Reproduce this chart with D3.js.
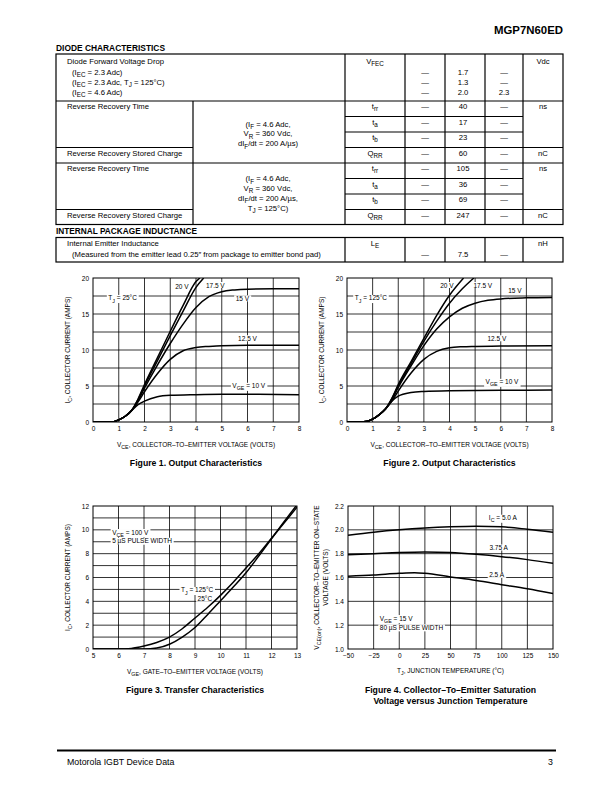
<!DOCTYPE html>
<html>
<head>
<meta charset="utf-8">
<script src="https://cdn.jsdelivr.net/npm/d3@7"></script>
<style>
  body { margin: 0; background: #fff; }
  svg { display: block; font-family: "Liberation Sans", Arial, Helvetica, sans-serif; }
</style>
</head>
<body>
<svg id="page" width="612" height="792"></svg>
<script>
const FONT = '"Liberation Sans", Arial, Helvetica, sans-serif';

// ---- table values
const forwardConds = ["(I_{EC} = 2.3 Adc)", "(I_{EC} = 2.3 Adc, T_{J} = 125°C)", "(I_{EC} = 4.6 Adc)"];
const forwardMin = ["—", "—", "—"];
const forwardTyp = ["1.7", "1.3", "2.0"];
const forwardMax = ["—", "—", "2.3"];
const recSymbols = ["t_{rr}", "t_{a}", "t_{b}", "Q_{RR}"];
const recUnits = ["ns", "", "", "nC"];
const rec25Cond = ["(I_{F} = 4.6 Adc,", "V_{R} = 360 Vdc,", "dI_{F}/dt = 200 A/µs)"];
const rec25Typ = ["40", "17", "23", "60"];
const rec125Cond = ["(I_{F} = 4.6 Adc,", "V_{R} = 360 Vdc,", "dI_{F}/dt = 200 A/µs,", "T_{J} = 125°C)"];
const rec125Typ = ["105", "36", "69", "247"];
const inductTyp = "7.5";

// ---- Figure 1: output characteristics, TJ = 25°C  [VCE (V), IC (A)]
const fig1Vge10 = [[0,0],[0.5,0],[0.8,0.05],[1,0.3],[1.25,0.8],[1.5,1.6],[1.75,2.4],[2,2.9],[2.5,3.5],[3,3.7],[4,3.8],[5,3.85],[6,3.85],[8,3.8]];
const fig1Vge125 = [[0,0],[0.5,0],[0.8,0.05],[1,0.3],[1.25,0.8],[1.5,1.6],[1.75,2.8],[2,4.2],[2.5,6.7],[3,8.7],[3.5,9.9],[4,10.35],[4.5,10.5],[5,10.6],[6,10.65],[8,10.65]];
const fig1Vge15 = [[0,0],[0.5,0],[0.8,0.05],[1,0.3],[1.25,0.8],[1.5,1.6],[1.75,3.0],[2,4.7],[2.5,7.9],[3,10.9],[3.5,13.6],[4,15.9],[4.5,17.4],[5,18.1],[5.5,18.35],[6,18.45],[7,18.5],[8,18.5]];
const fig1Vge175 = [[0,0],[0.5,0],[0.8,0.05],[1,0.3],[1.25,0.8],[1.5,1.6],[1.75,3.1],[2,5.0],[2.5,8.5],[3,12.0],[3.5,15.4],[4,18.7],[4.3,20]];
const fig1Vge20 = [[0,0],[0.5,0],[0.8,0.05],[1,0.3],[1.25,0.8],[1.5,1.6],[1.75,3.2],[2,5.2],[2.5,8.9],[3,12.6],[3.5,16.2],[4,19.5],[4.15,20]];

// ---- Figure 2: output characteristics, TJ = 125°C
const fig2Vge10 = [[0,0],[0.5,0],[0.8,0.1],[1,0.4],[1.25,1.0],[1.5,1.8],[1.75,2.9],[2,3.6],[2.5,4.1],[3,4.25],[4,4.35],[6,4.4],[8,4.45]];
const fig2Vge125 = [[0,0],[0.5,0],[0.8,0.1],[1,0.4],[1.25,1.0],[1.5,1.8],[1.75,2.9],[2,4.3],[2.5,6.8],[3,8.7],[3.5,9.8],[4,10.3],[4.5,10.45],[5,10.5],[6,10.55],[8,10.6]];
const fig2Vge15 = [[0,0],[0.5,0],[0.8,0.1],[1,0.4],[1.25,1.0],[1.5,1.8],[1.75,3.1],[2,4.8],[2.5,7.8],[3,10.6],[3.5,12.9],[4,14.6],[4.5,15.8],[5,16.5],[5.5,16.9],[6,17.1],[7,17.25],[8,17.3]];
const fig2Vge175 = [[0,0],[0.5,0],[0.8,0.1],[1,0.4],[1.25,1.0],[1.5,1.8],[1.75,3.2],[2,5.0],[2.5,8.1],[3,11.2],[3.5,14.0],[4,16.5],[4.5,18.5],[4.95,20]];
const fig2Vge20 = [[0,0],[0.5,0],[0.8,0.1],[1,0.4],[1.25,1.0],[1.5,1.8],[1.75,3.3],[2,5.2],[2.5,8.4],[3,11.6],[3.5,14.8],[4,17.6],[4.55,20]];

// ---- Figure 3: transfer characteristics [VGE (V), IC (A)]
const fig3Tj125 = [[5,0],[6,0],[6.5,0.05],[7,0.25],[7.5,0.55],[8,1.0],[8.5,1.7],[9,2.6],[9.5,3.5],[10,4.5],[10.5,5.6],[11,6.8],[11.5,8.0],[12,9.3],[12.5,10.6],[13,11.9]];
const fig3Tj25 = [[5,0],[7,0],[7.5,0.08],[8,0.4],[8.5,1.0],[9,1.8],[9.5,2.9],[10,4.05],[10.5,5.2],[11,6.4],[11.5,7.8],[12,9.25],[12.5,10.7],[13,12.1]];

// ---- Figure 4: VCE(on) vs junction temperature [TJ (°C), V]
const fig4Ic50 = [[-50,1.955],[-25,1.98],[0,2.0],[25,2.015],[50,2.025],[75,2.03],[100,2.025],[125,2.005],[150,1.98]];
const fig4Ic375 = [[-50,1.79],[-25,1.8],[0,1.81],[25,1.815],[50,1.81],[75,1.795],[100,1.775],[125,1.75],[150,1.72]];
const fig4Ic25 = [[-50,1.61],[-25,1.62],[0,1.635],[15,1.64],[25,1.635],[50,1.605],[75,1.575],[100,1.54],[125,1.505],[150,1.465]];

const svg = d3.select("#page");
svg.append("rect").attr("width", 612).attr("height", 792).attr("fill", "#fff");

// text with _{subscript} parts
function rich(t, str, fs) {
  const off = fs * 0.32;
  let down = false;
  str.split(/(_\{[^}]*\})/).forEach(p => {
    if (!p) return;
    if (p.startsWith("_{")) {
      t.append("tspan").attr("dy", down ? 0 : off).attr("font-size", fs * 0.82).text(p.slice(2, -1));
      down = true;
    } else {
      t.append("tspan").attr("dy", down ? -off : 0).text(p);
      down = false;
    }
  });
  return t;
}

function txt(g, x, y, str, o = {}) {
  const fs = o.size || 7.7;
  const t = g.append("text").attr("x", x).attr("y", y)
    .attr("font-size", fs).attr("text-anchor", o.anchor || "start");
  if (o.weight) t.attr("font-weight", o.weight);
  if (o.rotate) t.attr("transform", `rotate(-90,${x},${y})`);
  rich(t, str, fs);
  if (o.bg) {
    const b = t.node().getBBox();
    g.insert("rect", () => t.node())
      .attr("x", b.x - 1.5).attr("y", b.y + 0.5).attr("width", b.width + 3).attr("height", b.height - 1)
      .attr("fill", "#fff");
  }
  return t;
}

// ---- page header
svg.append("text").attr("x", 494).attr("y", 34).attr("font-size", 10.5).attr("font-weight", 900)
  .attr("textLength", 69).attr("lengthAdjust", "spacingAndGlyphs").text("MGP7N60ED");
svg.append("text").attr("x", 56).attr("y", 50.5).attr("font-size", 8.6).attr("font-weight", "bold")
  .attr("textLength", 109).attr("lengthAdjust", "spacingAndGlyphs").text("DIODE CHARACTERISTICS");
svg.append("text").attr("x", 56).attr("y", 233.5).attr("font-size", 8.6).attr("font-weight", "bold")
  .attr("textLength", 141).attr("lengthAdjust", "spacingAndGlyphs").text("INTERNAL PACKAGE INDUCTANCE");

// ---- tables
const colX = [56, 193, 345, 405, 445, 485, 523, 563];
const cSym = (colX[2] + colX[3]) / 2, cMin = (colX[3] + colX[4]) / 2, cTyp = 463,
      cMax = (colX[5] + colX[6]) / 2, cUnit = (colX[6] + colX[7]) / 2;
const tg = svg.append("g");
const lines = tg.append("g").attr("stroke", "#000").attr("stroke-width", 1.2);
const hline = (y, x1, x2) => lines.append("line").attr("x1", x1).attr("x2", x2).attr("y1", y).attr("y2", y);
const vline = (x, y1, y2) => lines.append("line").attr("x1", x).attr("x2", x).attr("y1", y1).attr("y2", y2);

const tTop = 54, tRow1 = 101, tBot = 224.5;
lines.append("rect").attr("x", colX[0]).attr("y", tTop).attr("width", colX[7] - colX[0])
  .attr("height", tBot - tTop).attr("fill", "none");
colX.slice(2, 7).forEach(x => vline(x, tTop, tBot));
vline(colX[1], tRow1, tBot);

txt(tg, 67, 63.5, "Diode Forward Voltage Drop");
txt(tg, cSym, 63.5, "V_{FEC}", { anchor: "middle" });
txt(tg, cUnit, 63.5, "Vdc", { anchor: "middle" });
forwardConds.forEach((s, i) => {
  const y = 74.5 + i * 10;
  txt(tg, 72, y, s);
  txt(tg, cMin, y, forwardMin[i], { anchor: "middle" });
  txt(tg, cTyp, y, forwardTyp[i], { anchor: "middle" });
  txt(tg, cMax, y, forwardMax[i], { anchor: "middle" });
});

const rowH = 15.5;
[[tRow1, rec25Cond, rec25Typ, 124], [tRow1 + 4 * rowH, rec125Cond, rec125Typ, 178.5]].forEach(([top, cond, typ, condY]) => {
  hline(top, colX[0], colX[7]);
  hline(top + 3 * rowH, colX[0], colX[1]);
  hline(top + 3 * rowH, colX[2], colX[7]);
  hline(top + rowH, colX[2], colX[6]);
  hline(top + 2 * rowH, colX[2], colX[6]);
  txt(tg, 67, top + 8, "Reverse Recovery Time");
  txt(tg, 67, top + 3 * rowH + 8, "Reverse Recovery Stored Charge");
  cond.forEach((s, i) => txt(tg, 268, condY + 2.6 + i * 9.8, s, { anchor: "middle" }));
  recSymbols.forEach((s, i) => {
    const y = top + i * rowH + 8;
    txt(tg, cSym, y, s, { anchor: "middle" });
    txt(tg, cMin, y, "—", { anchor: "middle" });
    txt(tg, cTyp, y, typ[i], { anchor: "middle" });
    txt(tg, cMax, y, "—", { anchor: "middle" });
    if (recUnits[i]) txt(tg, cUnit, y, recUnits[i], { anchor: "middle" });
  });
});

const t2Top = 237.5, t2Bot = 262;
lines.append("rect").attr("x", colX[0]).attr("y", t2Top).attr("width", colX[7] - colX[0])
  .attr("height", t2Bot - t2Top).attr("fill", "none");
colX.slice(2, 7).forEach(x => vline(x, t2Top, t2Bot));
txt(tg, 67, 245.5, "Internal Emitter Inductance");
txt(tg, 72, 256.5, "(Measured from the emitter lead 0.25″ from package to emitter bond pad)");
txt(tg, cSym, 245.5, "L_{E}", { anchor: "middle" });
txt(tg, cUnit, 245.5, "nH", { anchor: "middle" });
txt(tg, cMin, 256.5, "—", { anchor: "middle" });
txt(tg, cTyp, 256.5, inductTyp, { anchor: "middle" });
txt(tg, cMax, 256.5, "—", { anchor: "middle" });

// ---- charts
function chart(c) {
  const g = svg.append("g");
  const x = d3.scaleLinear().domain(c.xDomain).range([c.left, c.right]);
  const y = d3.scaleLinear().domain(c.yDomain).range([c.bottom, c.top]);

  g.append("g").selectAll("line").data(c.xGrid).join("line")
    .attr("x1", d => x(d)).attr("x2", d => x(d)).attr("y1", c.top).attr("y2", c.bottom);
  g.append("g").selectAll("line").data(c.yGrid).join("line")
    .attr("x1", c.left).attr("x2", c.right).attr("y1", d => y(d)).attr("y2", d => y(d));
  g.selectAll("line").attr("stroke", "#000").attr("stroke-width", 0.8);

  // labels sit on white boxes that break the grid; curves are drawn over them
  const lg = g.append("g");
  c.labels.forEach(l => txt(lg, x(l.x), y(l.y) + 2.3, l.text, { size: 6.5, anchor: l.anchor || "middle", bg: true }));

  g.append("rect").attr("x", c.left).attr("y", c.top).attr("width", c.right - c.left)
    .attr("height", c.bottom - c.top).attr("fill", "none").attr("stroke", "#000").attr("stroke-width", 1);

  const ax = g.append("g").attr("transform", `translate(0,${c.bottom})`)
    .call(d3.axisBottom(x).tickValues(c.xTicks).tickSize(0).tickPadding(4.5).tickFormat(c.xFormat));
  const ay = g.append("g").attr("transform", `translate(${c.left},0)`)
    .call(d3.axisLeft(y).tickValues(c.yTicks).tickSize(0).tickPadding(4).tickFormat(c.yFormat));
  [ax, ay].forEach(a => {
    a.select(".domain").remove();
    a.attr("font-family", FONT).attr("font-size", 6.5);
  });

  g.append("clipPath").attr("id", "clip" + c.id).append("rect")
    .attr("x", c.left).attr("y", c.top).attr("width", c.right - c.left).attr("height", c.bottom - c.top);
  const line = d3.line().x(d => x(d[0])).y(d => y(d[1])).curve(d3.curveMonotoneX);
  g.append("g").attr("clip-path", `url(#clip${c.id})`)
    .selectAll("path").data(c.series).join("path")
    .attr("d", line).attr("fill", "none").attr("stroke", "#000")
    .attr("stroke-width", 1.5).attr("stroke-linejoin", "round");

  const cx = (c.left + c.right) / 2;
  txt(g, cx, c.xTitleY, c.xTitle, { size: 6.5, anchor: "middle" });
  c.yTitle.forEach((s, i) => txt(g, c.yTitleX + i * 9.5, (c.top + c.bottom) / 2, s, { size: 6.5, anchor: "middle", rotate: true }));
  c.title.forEach((s, i) => txt(g, cx, c.titleY + i * 11, s, { size: 8.7, anchor: "middle", weight: "bold" }));
}

const fmtInt = d3.format("d");

chart({
  id: 1, left: 93, right: 299, top: 278, bottom: 422,
  xDomain: [0, 8], yDomain: [0, 20],
  xTicks: d3.range(0, 9), yTicks: [0, 5, 10, 15, 20],
  xGrid: d3.range(1, 8), yGrid: d3.range(2.5, 20, 2.5),
  xFormat: fmtInt, yFormat: fmtInt,
  series: [fig1Vge10, fig1Vge125, fig1Vge15, fig1Vge175, fig1Vge20],
  labels: [
    { x: 1.15, y: 17.2, text: "T_{J} = 25°C" },
    { x: 3.45, y: 18.8, text: "20 V" },
    { x: 4.75, y: 19.0, text: "17.5 V" },
    { x: 5.8, y: 17.15, text: "15 V" },
    { x: 6.0, y: 11.6, text: "12.5 V" },
    { x: 6.05, y: 5.0, text: "V_{GE} = 10 V" }
  ],
  xTitle: "V_{CE}, COLLECTOR–TO–EMITTER VOLTAGE (VOLTS)", xTitleY: 446.5,
  yTitle: ["I_{C}, COLLECTOR CURRENT (AMPS)"], yTitleX: 69.5,
  title: ["Figure 1. Output Characteristics"], titleY: 466
});

chart({
  id: 2, left: 347, right: 552, top: 278, bottom: 422,
  xDomain: [0, 8], yDomain: [0, 20],
  xTicks: d3.range(0, 9), yTicks: [0, 5, 10, 15, 20],
  xGrid: d3.range(1, 8), yGrid: d3.range(2.5, 20, 2.5),
  xFormat: fmtInt, yFormat: fmtInt,
  series: [fig2Vge10, fig2Vge125, fig2Vge15, fig2Vge175, fig2Vge20],
  labels: [
    { x: 0.93, y: 17.2, text: "T_{J} = 125°C" },
    { x: 3.9, y: 19.0, text: "20 V" },
    { x: 5.3, y: 19.0, text: "17.5 V" },
    { x: 6.55, y: 18.2, text: "15 V" },
    { x: 5.85, y: 11.6, text: "12.5 V" },
    { x: 6.05, y: 5.55, text: "V_{GE} = 10 V" }
  ],
  xTitle: "V_{CE}, COLLECTOR–TO–EMITTER VOLTAGE (VOLTS)", xTitleY: 446.5,
  yTitle: ["I_{C}, COLLECTOR CURRENT (AMPS)"], yTitleX: 323.5,
  title: ["Figure 2. Output Characteristics"], titleY: 466
});

chart({
  id: 3, left: 93, right: 297, top: 506, bottom: 649,
  xDomain: [5, 13], yDomain: [0, 12],
  xTicks: d3.range(5, 14), yTicks: d3.range(0, 13, 2),
  xGrid: d3.range(6, 13), yGrid: d3.range(1, 12),
  xFormat: fmtInt, yFormat: fmtInt,
  series: [fig3Tj125, fig3Tj25],
  labels: [
    { x: 5.75, y: 9.8, text: "V_{CE} = 100 V", anchor: "start" },
    { x: 5.75, y: 9.07, text: "5 µS PULSE WIDTH", anchor: "start" },
    { x: 8.45, y: 4.94, text: "T_{J} = 125°C", anchor: "start" },
    { x: 9.1, y: 4.2, text: "25°C", anchor: "start" }
  ],
  xTitle: "V_{GE}, GATE–TO–EMITTER VOLTAGE (VOLTS)", xTitleY: 673.5,
  yTitle: ["I_{C}, COLLECTOR CURRENT (AMPS)"], yTitleX: 69.5,
  title: ["Figure 3. Transfer Characteristics"], titleY: 693
});

chart({
  id: 4, left: 348, right: 553, top: 506, bottom: 649,
  xDomain: [-50, 150], yDomain: [1.0, 2.2],
  xTicks: d3.range(-50, 151, 25), yTicks: [1.0, 1.2, 1.4, 1.6, 1.8, 2.0, 2.2],
  xGrid: d3.range(-25, 150, 25), yGrid: [1.2, 1.4, 1.6, 1.8, 2.0],
  xFormat: fmtInt, yFormat: d3.format(".1f"),
  series: [fig4Ic50, fig4Ic375, fig4Ic25],
  labels: [
    { x: 101, y: 2.10, text: "I_{C} = 5.0 A" },
    { x: 97, y: 1.85, text: "3.75 A" },
    { x: 95, y: 1.62, text: "2.5 A" },
    { x: -19, y: 1.258, text: "V_{GE} = 15 V", anchor: "start" },
    { x: -19, y: 1.18, text: "80 µS PULSE WIDTH", anchor: "start" }
  ],
  xTitle: "T_{J}, JUNCTION TEMPERATURE (°C)", xTitleY: 673,
  yTitle: ["V_{CE(on)}, COLLECTOR–TO–EMITTER ON–STATE", "VOLTAGE (VOLTS)"], yTitleX: 318.5,
  title: ["Figure 4. Collector–To–Emitter Saturation", "Voltage versus Junction Temperature"], titleY: 693
});

// ---- footer
svg.append("line").attr("x1", 57).attr("x2", 556).attr("y1", 750.5).attr("y2", 750.5)
  .attr("stroke", "#000").attr("stroke-width", 1.8);
txt(svg, 67, 765, "Motorola IGBT Device Data", { size: 8.8 });
txt(svg, 553, 765, "3", { size: 8.8, anchor: "end" });
</script>
</body>
</html>
